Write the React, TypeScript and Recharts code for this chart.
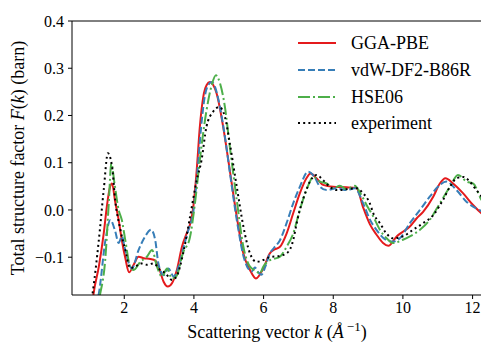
import React from "react";
import {
  LineChart,
  Line,
  XAxis,
  YAxis,
  Legend,
  ReferenceLine,
  Label,
} from "recharts";

// values, k in 1/Å, F(k) in barn
const kGga = [1.05, 1.12, 1.27, 1.41, 1.5, 1.58, 1.65, 1.74, 1.84, 1.93, 2.03, 2.14, 2.27, 2.41, 2.56, 2.75, 2.89, 3.0, 3.13, 3.25, 3.37, 3.51, 3.66, 3.79, 3.89, 3.98, 4.08, 4.17, 4.27, 4.37, 4.46, 4.55, 4.65, 4.84, 5.03, 5.23, 5.42, 5.61, 5.78, 5.99, 6.18, 6.28, 6.47, 6.66, 6.85, 7.04, 7.23, 7.35, 7.52, 7.71, 8.0, 8.38, 8.67, 8.86, 9.05, 9.24, 9.43, 9.58, 9.82, 10.0, 10.2, 10.39, 10.58, 10.87, 11.06, 11.22, 11.44, 11.73, 12.02, 12.3, 12.5];
const fGga = [-0.22, -0.177, -0.12, -0.05, 0.007, 0.045, 0.056, 0.017, -0.021, -0.064, -0.102, -0.132, -0.116, -0.099, -0.102, -0.104, -0.107, -0.123, -0.152, -0.162, -0.155, -0.127, -0.077, -0.05, -0.03, 0.005, 0.084, 0.176, 0.24, 0.265, 0.271, 0.265, 0.247, 0.176, 0.084, -0.014, -0.092, -0.127, -0.145, -0.124, -0.092, -0.085, -0.078, -0.05, -0.007, 0.035, 0.067, 0.077, 0.067, 0.053, 0.049, 0.048, 0.046, 0.005, -0.03, -0.052, -0.07, -0.076, -0.056, -0.046, -0.035, -0.018, -0.004, 0.028, 0.056, 0.067, 0.056, 0.035, 0.01, -0.01, -0.02];

const kVdw = [1.05, 1.27, 1.46, 1.6, 1.74, 1.84, 1.93, 2.03, 2.12, 2.22, 2.41, 2.6, 2.77, 2.89, 2.98, 3.13, 3.27, 3.42, 3.56, 3.7, 3.85, 3.98, 4.1, 4.2, 4.3, 4.4, 4.51, 4.6, 4.7, 4.88, 5.05, 5.25, 5.45, 5.66, 5.75, 5.85, 5.94, 6.05, 6.18, 6.3, 6.47, 6.66, 6.85, 7.04, 7.28, 7.46, 7.62, 7.81, 8.1, 8.38, 8.62, 8.86, 9.05, 9.24, 9.53, 9.72, 9.91, 10.2, 10.49, 10.77, 11.06, 11.25, 11.54, 11.83, 12.11, 12.3, 12.5];
const fVdw = [-0.22, -0.177, -0.064, -0.021, -0.045, -0.07, -0.056, -0.085, -0.11, -0.124, -0.085, -0.056, -0.042, -0.064, -0.113, -0.138, -0.124, -0.141, -0.12, -0.08, -0.04, -0.005, 0.08, 0.17, 0.235, 0.263, 0.271, 0.262, 0.235, 0.16, 0.07, -0.03, -0.105, -0.13, -0.122, -0.132, -0.137, -0.12, -0.092, -0.08, -0.064, -0.028, 0.014, 0.049, 0.081, 0.07, 0.049, 0.042, 0.046, 0.042, 0.046, 0.014, -0.02, -0.042, -0.064, -0.067, -0.06, -0.028, 0.0, 0.028, 0.053, 0.06, 0.042, 0.017, 0.003, -0.004, -0.01];

const kHse = [1.1, 1.31, 1.46, 1.55, 1.63, 1.72, 1.84, 1.93, 2.03, 2.17, 2.27, 2.46, 2.65, 2.8, 2.94, 3.08, 3.23, 3.37, 3.5, 3.69, 3.88, 4.03, 4.17, 4.36, 4.51, 4.63, 4.75, 4.89, 5.03, 5.23, 5.42, 5.61, 5.8, 5.89, 5.99, 6.1, 6.28, 6.47, 6.66, 6.85, 7.04, 7.23, 7.43, 7.62, 7.81, 8.0, 8.19, 8.38, 8.62, 8.76, 8.96, 9.15, 9.34, 9.53, 9.72, 10.0, 10.2, 10.49, 10.77, 11.06, 11.35, 11.58, 11.83, 12.02, 12.25, 12.5];
const fHse = [-0.22, -0.177, -0.1, 0.007, 0.098, 0.056, 0.0, -0.021, -0.064, -0.12, -0.127, -0.11, -0.099, -0.085, -0.12, -0.141, -0.124, -0.145, -0.14, -0.09, -0.06, 0.014, 0.106, 0.21, 0.264, 0.285, 0.268, 0.218, 0.134, 0.021, -0.078, -0.12, -0.13, -0.135, -0.12, -0.11, -0.104, -0.099, -0.078, -0.05, 0.0, 0.042, 0.07, 0.06, 0.056, 0.046, 0.051, 0.044, 0.051, 0.038, 0.01, -0.014, -0.042, -0.06, -0.07, -0.063, -0.056, -0.042, -0.021, 0.014, 0.049, 0.074, 0.06, 0.056, 0.022, 0.0];

const kExp = [1.0, 1.09, 1.27, 1.41, 1.53, 1.65, 1.74, 1.89, 2.03, 2.17, 2.32, 2.46, 2.65, 2.84, 3.03, 3.18, 3.37, 3.5, 3.69, 3.89, 4.08, 4.22, 4.36, 4.55, 4.73, 4.89, 5.03, 5.23, 5.42, 5.61, 5.8, 5.99, 6.18, 6.47, 6.66, 6.85, 6.95, 7.04, 7.19, 7.33, 7.52, 7.71, 7.9, 8.1, 8.38, 8.67, 8.86, 9.05, 9.15, 9.34, 9.53, 9.72, 10.0, 10.29, 10.58, 10.87, 11.15, 11.35, 11.54, 11.73, 11.92, 12.11, 12.3, 12.5];
const fExp = [-0.22, -0.177, -0.064, 0.042, 0.12, 0.092, 0.021, -0.042, -0.085, -0.123, -0.12, -0.113, -0.116, -0.113, -0.127, -0.134, -0.148, -0.141, -0.092, -0.014, 0.063, 0.106, 0.176, 0.208, 0.218, 0.197, 0.141, 0.049, -0.035, -0.092, -0.11, -0.106, -0.1, -0.097, -0.092, -0.064, -0.028, 0.0, 0.035, 0.06, 0.074, 0.063, 0.049, 0.042, 0.044, 0.046, 0.035, 0.014, -0.007, -0.028, -0.05, -0.06, -0.056, -0.042, -0.028, -0.011, 0.021, 0.049, 0.067, 0.07, 0.06, 0.042, 0.025, 0.01];

const xTicks = [2, 4, 6, 8, 10, 12];
const yTicks = [-0.1, 0.0, 0.1, 0.2, 0.3, 0.4];

const zip = (ks: number[], fs: number[]) => ks.map((k, i) => ({ k, f: fs[i] }));

const series = [
  { name: "GGA-PBE", data: zip(kGga, fGga), color: "#e41a1c", dash: undefined },
  { name: "vdW-DF2-B86R", data: zip(kVdw, fVdw), color: "#377eb8", dash: "7 3" },
  { name: "HSE06", data: zip(kHse, fHse), color: "#4daf4a", dash: "12 3 2 3" },
  { name: "experiment", data: zip(kExp, fExp), color: "#000000", dash: "2 3.2" },
];

const FONT = "Liberation Serif";

const LegendBox = () => (
  <div style={{ fontFamily: FONT, fontSize: 18, color: "#000", lineHeight: 1 }}>
    {series.map((s) => (
      <div key={s.name} style={{ height: 26.7, display: "flex", alignItems: "center" }}>
        <svg width={52} height={10} style={{ display: "block" }}>
          <line x1={6} y1={5} x2={44} y2={5} stroke={s.color} strokeWidth={2} strokeDasharray={s.dash} />
        </svg>
        <span style={{ marginLeft: 7 }}>{s.name}</span>
      </div>
    ))}
  </div>
);

const fmtY = (v: number) => v.toFixed(1).replace("-", "\u2212");

export default function App() {
  return (
    <div style={{ position: "absolute", left: 0, top: 0, width: 481, height: 344, overflow: "hidden", background: "#fff", fontFamily: FONT }}>
      <LineChart width={490} height={344} margin={{ top: 21, right: 0, bottom: 0, left: 0 }} style={{ fontFamily: FONT }}>
        <XAxis
          dataKey="k"
          type="number"
          domain={[0.5, 12.5]}
          allowDataOverflow
          ticks={xTicks}
          height={49}
          tickSize={4}
          tickMargin={3}
          stroke="#000"
          tick={{ fill: "#000", fontSize: 16, fontFamily: FONT }}
        >
          <Label
            content={() => (
              <text x={277} y={338} textAnchor="middle" fontFamily={FONT} fontSize={18} fill="#000">
                Scattering vector <tspan fontStyle="italic">k</tspan> (<tspan fontStyle="italic">Å</tspan>
                <tspan dx={3} dy={-7} fontSize={13}>{"\u22121"}</tspan>
                <tspan dy={7}>)</tspan>
              </text>
            )}
          />
        </XAxis>
        <YAxis
          type="number"
          domain={[-0.18, 0.4]}
          allowDataOverflow
          ticks={yTicks}
          width={72}
          tickSize={4}
          tickMargin={4}
          stroke="#000"
          tickFormatter={fmtY}
          tick={{ fill: "#000", fontSize: 16, fontFamily: FONT }}
        >
          <Label
            content={() => (
              <text
                x={20}
                y={158}
                transform="rotate(-90 20 158)"
                textAnchor="middle"
                dominantBaseline="middle"
                fontFamily={FONT}
                fontSize={18}
                fill="#000"
              >
                Total structure factor <tspan fontStyle="italic">F</tspan>(<tspan fontStyle="italic">k</tspan>) (barn)
              </text>
            )}
          />
        </YAxis>
        <ReferenceLine y={0.4} stroke="#000" strokeWidth={1} />
        <Legend
          layout="horizontal"
          verticalAlign="middle"
          align="center"
          content={() => <LegendBox />}
          wrapperStyle={{ top: 30, left: 292, width: 189, height: 108 }}
        />
        {series.map((s) => (
          <Line
            key={s.name}
            data={s.data}
            dataKey="f"
            name={s.name}
            type="monotone"
            stroke={s.color}
            strokeWidth={2}
            strokeDasharray={s.dash}
            dot={false}
            activeDot={false}
            isAnimationActive={false}
          />
        ))}
      </LineChart>
    </div>
  );
}
